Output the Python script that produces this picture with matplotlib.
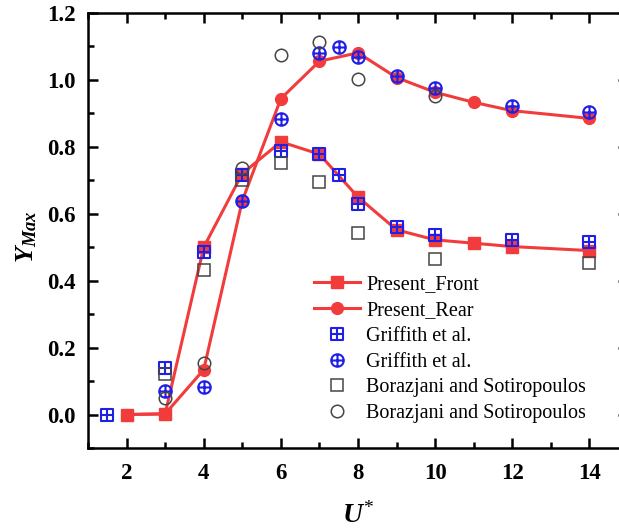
import matplotlib
matplotlib.use("Agg")
import matplotlib.pyplot as plt
from matplotlib.path import Path
from matplotlib.ticker import MultipleLocator
import numpy as np

# Present simulation
u_present = [2, 3, 4, 5, 6, 7, 8, 9, 10, 11, 12, 14]
front_present = [0.0, 0.002, 0.50, 0.72, 0.815, 0.778, 0.650, 0.552, 0.522, 0.512, 0.502, 0.490]
rear_present = [0.0, 0.002, 0.134, 0.639, 0.944, 1.056, 1.081, 1.007, 0.963, 0.933, 0.908, 0.885]

# Griffith et al.
u_griff_front = [1.5, 3, 4, 5, 6, 7, 7.5, 8, 9, 10, 12, 14]
griff_front = [0.0, 0.139, 0.486, 0.716, 0.787, 0.778, 0.716, 0.628, 0.559, 0.537, 0.522, 0.517]
u_griff_rear = [3, 4, 5, 6, 7, 7.5, 8, 9, 10, 12, 14]
griff_rear = [0.071, 0.081, 0.639, 0.882, 1.079, 1.098, 1.068, 1.011, 0.975, 0.923, 0.905]

# Borazjani and Sotiropoulos
u_bora_front = [3, 4, 5, 6, 7, 8, 10, 14]
bora_front = [0.121, 0.432, 0.701, 0.753, 0.694, 0.543, 0.464, 0.452]
u_bora_rear = [3, 4, 5, 6, 7, 8, 10]
bora_rear = [0.050, 0.153, 0.736, 1.074, 1.112, 1.003, 0.951]

RED = "#f23c3c"
BLUE = "#1f1fe6"
GRAY = "#454545"

# square with a cross inside, circle with a cross inside
sq_cross = Path(
    [(-1, -1), (1, -1), (1, 1), (-1, 1), (-1, -1),
     (0, -1), (0, 1), (-1, 0), (1, 0)],
    [Path.MOVETO, Path.LINETO, Path.LINETO, Path.LINETO, Path.CLOSEPOLY,
     Path.MOVETO, Path.LINETO, Path.MOVETO, Path.LINETO])
circ = Path.unit_circle()
circ_cross = Path(
    np.concatenate([circ.vertices, [(0, -1), (0, 1), (-1, 0), (1, 0)]]),
    np.concatenate([circ.codes, [Path.MOVETO, Path.LINETO, Path.MOVETO, Path.LINETO]]))

plt.rcParams["font.family"] = ["Liberation Serif", "DejaVu Serif"]
plt.rcParams["mathtext.fontset"] = "custom"
plt.rcParams["mathtext.rm"] = "Liberation Serif"
plt.rcParams["mathtext.it"] = "Liberation Serif:italic:bold"
plt.rcParams["mathtext.bf"] = "Liberation Serif:bold"

fig = plt.figure(figsize=(6.19, 5.28), dpi=100)
ax = fig.add_axes([88 / 619, 80 / 528, 540 / 619, 435 / 528])

ax.plot(u_present, front_present, "-s", color=RED, lw=2.2, ms=8, label="Present_Front")
ax.plot(u_present, rear_present, "-o", color=RED, lw=2.2, ms=8.5, label="Present_Rear")
ax.plot(u_griff_front, griff_front, ls="none", marker=sq_cross, ms=8.5, mfc="none",
        mec=BLUE, mew=1.5, label="Griffith et al.")
ax.plot(u_griff_rear, griff_rear, ls="none", marker=circ_cross, ms=9, mfc="none",
        mec=BLUE, mew=1.5, label="Griffith et al.")
ax.plot(u_bora_front, bora_front, ls="none", marker="s", ms=8, mfc="none",
        mec=GRAY, mew=1.1, label="Borazjani and Sotiropoulos")
ax.plot(u_bora_rear, bora_rear, ls="none", marker="o", ms=9, mfc="none",
        mec=GRAY, mew=1.1, label="Borazjani and Sotiropoulos")

ax.set_xlim(1, 15)
ax.set_ylim(-0.1, 1.2)
ax.yaxis.set_major_locator(MultipleLocator(0.2))
ax.yaxis.set_minor_locator(MultipleLocator(0.1))
ax.xaxis.set_minor_locator(MultipleLocator(1))
ax.set_xticks([2, 4, 6, 8, 10, 12, 14])
ax.tick_params(which="both", direction="in", top=True, right=True, width=1.8)
ax.tick_params(which="major", length=7, labelsize=16.5)
ax.tick_params(axis="x", which="major", pad=11)
ax.tick_params(axis="y", which="major", pad=9)
ax.tick_params(which="minor", length=4)
for lab in ax.get_xticklabels() + ax.get_yticklabels():
    lab.set_fontweight("bold")
for sp in ax.spines.values():
    sp.set_linewidth(1.8)

ax.set_xlabel(r"$U^{*}$", fontsize=20, labelpad=13)
ax.set_ylabel(r"$Y_{Max}$", fontsize=19, labelpad=6)
ax.yaxis.set_label_coords(-0.091, 0.485)

ax.legend(loc="upper left", bbox_to_anchor=(0.40, 0.42), frameon=False, fontsize=14.5,
          handlelength=2.3, labelspacing=0.33, handletextpad=0.3, borderpad=0)

fig.savefig("out.png", dpi=100)
